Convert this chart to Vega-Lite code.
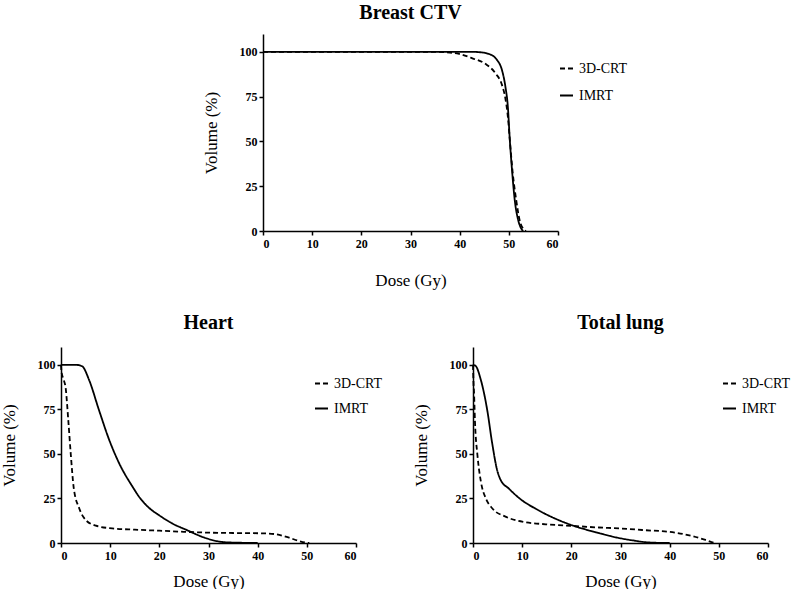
{
  "$schema": "https://vega.github.io/schema/vega-lite/v6.json",
  "background": "white",
  "padding": {"left": 0, "top": 3, "right": 0, "bottom": 0},
  "datasets": {
    "ctv": [
      {"dose": 0, "vol": 100, "plan": "3D-CRT"},
      {"dose": 35, "vol": 100, "plan": "3D-CRT"},
      {"dose": 37, "vol": 99.8, "plan": "3D-CRT"},
      {"dose": 39.9, "vol": 98.9, "plan": "3D-CRT"},
      {"dose": 42.6, "vol": 96.4, "plan": "3D-CRT"},
      {"dose": 45.3, "vol": 93.2, "plan": "3D-CRT"},
      {"dose": 47.3, "vol": 88, "plan": "3D-CRT"},
      {"dose": 48.6, "vol": 81.6, "plan": "3D-CRT"},
      {"dose": 49.3, "vol": 74, "plan": "3D-CRT"},
      {"dose": 49.8, "vol": 63.9, "plan": "3D-CRT"},
      {"dose": 50.2, "vol": 50.8, "plan": "3D-CRT"},
      {"dose": 50.8, "vol": 32.2, "plan": "3D-CRT"},
      {"dose": 51.5, "vol": 17.3, "plan": "3D-CRT"},
      {"dose": 52.2, "vol": 6, "plan": "3D-CRT"},
      {"dose": 53.0, "vol": 1, "plan": "3D-CRT"},
      {"dose": 53.5, "vol": 0, "plan": "3D-CRT"},
      {"dose": 0, "vol": 100, "plan": "IMRT"},
      {"dose": 30, "vol": 100, "plan": "IMRT"},
      {"dose": 43, "vol": 100, "plan": "IMRT"},
      {"dose": 44.2, "vol": 99.8, "plan": "IMRT"},
      {"dose": 45.9, "vol": 98.9, "plan": "IMRT"},
      {"dose": 47.6, "vol": 95.5, "plan": "IMRT"},
      {"dose": 48.6, "vol": 89.9, "plan": "IMRT"},
      {"dose": 49.3, "vol": 80.6, "plan": "IMRT"},
      {"dose": 49.8, "vol": 69.4, "plan": "IMRT"},
      {"dose": 50.2, "vol": 50.8, "plan": "IMRT"},
      {"dose": 50.7, "vol": 32.2, "plan": "IMRT"},
      {"dose": 51.2, "vol": 17.3, "plan": "IMRT"},
      {"dose": 51.9, "vol": 6.1, "plan": "IMRT"},
      {"dose": 52.5, "vol": 1.5, "plan": "IMRT"},
      {"dose": 52.9, "vol": 0, "plan": "IMRT"}
    ],
    "heart": [
      {"dose": 0, "vol": 100, "plan": "3D-CRT"},
      {"dose": 0.1, "vol": 96, "plan": "3D-CRT"},
      {"dose": 0.5, "vol": 92, "plan": "3D-CRT"},
      {"dose": 0.95, "vol": 86.9, "plan": "3D-CRT"},
      {"dose": 1.5, "vol": 68.2, "plan": "3D-CRT"},
      {"dose": 2.0, "vol": 49.4, "plan": "3D-CRT"},
      {"dose": 2.6, "vol": 30.7, "plan": "3D-CRT"},
      {"dose": 3.7, "vol": 19.5, "plan": "3D-CRT"},
      {"dose": 5.0, "vol": 13, "plan": "3D-CRT"},
      {"dose": 7.1, "vol": 9.7, "plan": "3D-CRT"},
      {"dose": 10.4, "vol": 8.2, "plan": "3D-CRT"},
      {"dose": 15, "vol": 7.5, "plan": "3D-CRT"},
      {"dose": 20, "vol": 6.9, "plan": "3D-CRT"},
      {"dose": 25, "vol": 6.3, "plan": "3D-CRT"},
      {"dose": 30, "vol": 5.8, "plan": "3D-CRT"},
      {"dose": 35, "vol": 5.6, "plan": "3D-CRT"},
      {"dose": 41.6, "vol": 5.4, "plan": "3D-CRT"},
      {"dose": 43.7, "vol": 4.9, "plan": "3D-CRT"},
      {"dose": 46.4, "vol": 3, "plan": "3D-CRT"},
      {"dose": 48.4, "vol": 1.1, "plan": "3D-CRT"},
      {"dose": 49.8, "vol": 0.2, "plan": "3D-CRT"},
      {"dose": 50.5, "vol": 0, "plan": "3D-CRT"},
      {"dose": 0, "vol": 100, "plan": "IMRT"},
      {"dose": 3, "vol": 100, "plan": "IMRT"},
      {"dose": 4.3, "vol": 99.2, "plan": "IMRT"},
      {"dose": 5.7, "vol": 91.6, "plan": "IMRT"},
      {"dose": 7.7, "vol": 74.8, "plan": "IMRT"},
      {"dose": 9.8, "vol": 57.9, "plan": "IMRT"},
      {"dose": 11.8, "vol": 44.9, "plan": "IMRT"},
      {"dose": 14.5, "vol": 31.8, "plan": "IMRT"},
      {"dose": 16, "vol": 25.5, "plan": "IMRT"},
      {"dose": 18, "vol": 19.5, "plan": "IMRT"},
      {"dose": 20, "vol": 15.5, "plan": "IMRT"},
      {"dose": 22.6, "vol": 11, "plan": "IMRT"},
      {"dose": 25.4, "vol": 7.5, "plan": "IMRT"},
      {"dose": 29.4, "vol": 2.8, "plan": "IMRT"},
      {"dose": 33.5, "vol": 0.4, "plan": "IMRT"},
      {"dose": 40, "vol": 0, "plan": "IMRT"}
    ],
    "lung": [
      {"dose": 0, "vol": 100, "plan": "3D-CRT"},
      {"dose": 0.1, "vol": 90, "plan": "3D-CRT"},
      {"dose": 0.2, "vol": 85, "plan": "3D-CRT"},
      {"dose": 0.4, "vol": 68.2, "plan": "3D-CRT"},
      {"dose": 0.9, "vol": 49.4, "plan": "3D-CRT"},
      {"dose": 1.6, "vol": 34.5, "plan": "3D-CRT"},
      {"dose": 2.6, "vol": 25.1, "plan": "3D-CRT"},
      {"dose": 3.9, "vol": 19.5, "plan": "3D-CRT"},
      {"dose": 6.6, "vol": 14.8, "plan": "3D-CRT"},
      {"dose": 10, "vol": 12, "plan": "3D-CRT"},
      {"dose": 14.8, "vol": 10.5, "plan": "3D-CRT"},
      {"dose": 20.2, "vol": 9.6, "plan": "3D-CRT"},
      {"dose": 25.6, "vol": 8.7, "plan": "3D-CRT"},
      {"dose": 29.7, "vol": 8.2, "plan": "3D-CRT"},
      {"dose": 34.4, "vol": 7.3, "plan": "3D-CRT"},
      {"dose": 41.2, "vol": 5.8, "plan": "3D-CRT"},
      {"dose": 44.6, "vol": 3.9, "plan": "3D-CRT"},
      {"dose": 47.3, "vol": 1.7, "plan": "3D-CRT"},
      {"dose": 49, "vol": 0.2, "plan": "3D-CRT"},
      {"dose": 49.5, "vol": 0, "plan": "3D-CRT"},
      {"dose": 0, "vol": 100, "plan": "IMRT"},
      {"dose": 0.5, "vol": 99.5, "plan": "IMRT"},
      {"dose": 1.6, "vol": 91.5, "plan": "IMRT"},
      {"dose": 2.9, "vol": 74.5, "plan": "IMRT"},
      {"dose": 3.9, "vol": 56, "plan": "IMRT"},
      {"dose": 4.9, "vol": 41, "plan": "IMRT"},
      {"dose": 5.6, "vol": 35.5, "plan": "IMRT"},
      {"dose": 7.3, "vol": 30.5, "plan": "IMRT"},
      {"dose": 10, "vol": 23.9, "plan": "IMRT"},
      {"dose": 12.7, "vol": 19.3, "plan": "IMRT"},
      {"dose": 16.8, "vol": 13.6, "plan": "IMRT"},
      {"dose": 20.2, "vol": 9.9, "plan": "IMRT"},
      {"dose": 25, "vol": 6, "plan": "IMRT"},
      {"dose": 29.7, "vol": 2.8, "plan": "IMRT"},
      {"dose": 32.4, "vol": 1.5, "plan": "IMRT"},
      {"dose": 35.8, "vol": 0.3, "plan": "IMRT"},
      {"dose": 40, "vol": 0, "plan": "IMRT"}
    ],
    "spacer": []
  },
  "spacing": 25,
  "vconcat": [
    {
      "spacing": 20,
      "resolve": {"scale": {"strokeDash": "independent"}, "legend": {"strokeDash": "independent"}},
      "hconcat": [
        {"data": {"name": "spacer"}, "mark": "point", "width": 121, "height": 10},
        {
          "data": {"name": "ctv"},
          "title": {"text": "Breast CTV", "offset": 11},
          "width": 295,
          "height": 197,
          "mark": {"type": "line", "interpolate": "monotone", "strokeWidth": 1.8, "color": "black"},
          "encoding": {
            "x": {"field": "dose", "type": "quantitative", "scale": {"domain": [0, 60], "nice": false}, "axis": {"title": "Dose (Gy)", "values": [0, 10, 20, 30, 40, 50, 60], "titlePadding": 23}},
            "y": {"field": "vol", "type": "quantitative", "scale": {"domain": [0, 110], "nice": false}, "axis": {"title": "Volume (%)", "values": [0, 25, 50, 75, 100]}},
            "strokeDash": {"field": "plan", "type": "nominal", "scale": {"domain": ["3D-CRT", "IMRT"], "range": [[5, 3], [1, 0]]}, "legend": {"legendX": 296, "legendY": 27, "rowPadding": 12}}
          }
        }
      ]
    },
    {
      "spacing": 29,
      "resolve": {"scale": {"strokeDash": "independent"}, "legend": {"strokeDash": "independent"}},
      "hconcat": [
        {
          "data": {"name": "heart"},
          "title": {"text": "Heart", "offset": 14},
          "width": 295,
          "height": 196,
          "mark": {"type": "line", "interpolate": "monotone", "strokeWidth": 1.8, "color": "black"},
          "encoding": {
            "x": {"field": "dose", "type": "quantitative", "scale": {"domain": [0, 60], "nice": false}, "axis": {"title": "Dose (Gy)", "values": [0, 10, 20, 30, 40, 50, 60], "titlePadding": 12}},
            "y": {"field": "vol", "type": "quantitative", "scale": {"domain": [0, 110], "nice": false}, "axis": {"title": "Volume (%)", "values": [0, 25, 50, 75, 100], "titlePadding": 19}},
            "strokeDash": {"field": "plan", "type": "nominal", "scale": {"domain": ["3D-CRT", "IMRT"], "range": [[5, 3], [1, 0]]}, "legend": {"legendX": 253, "legendY": 29, "rowPadding": 10}}
          }
        },
        {
          "data": {"name": "lung"},
          "title": {"text": "Total lung", "offset": 14},
          "width": 295,
          "height": 196,
          "mark": {"type": "line", "interpolate": "monotone", "strokeWidth": 1.8, "color": "black"},
          "encoding": {
            "x": {"field": "dose", "type": "quantitative", "scale": {"domain": [0, 60], "nice": false}, "axis": {"title": "Dose (Gy)", "values": [0, 10, 20, 30, 40, 50, 60], "titlePadding": 12}},
            "y": {"field": "vol", "type": "quantitative", "scale": {"domain": [0, 110], "nice": false}, "axis": {"title": "Volume (%)", "values": [0, 25, 50, 75, 100]}},
            "strokeDash": {"field": "plan", "type": "nominal", "scale": {"domain": ["3D-CRT", "IMRT"], "range": [[5, 3], [1, 0]]}, "legend": {"legendX": 249, "legendY": 29, "rowPadding": 10}}
          }
        }
      ]
    }
  ],
  "resolve": {"scale": {"strokeDash": "independent"}, "legend": {"strokeDash": "independent"}},
  "config": {
    "font": "Liberation Serif",
    "view": {"stroke": null},
    "axis": {
      "grid": false,
      "domainColor": "black",
      "domainWidth": 1.5,
      "tickColor": "black",
      "tickWidth": 1.5,
      "tickSize": 4,
      "labelFont": "Liberation Serif",
      "labelFontWeight": "bold",
      "labelFontSize": 12,
      "labelColor": "black",
      "labelPadding": 2,
      "titleFont": "Liberation Serif",
      "titleFontWeight": "normal",
      "titleFontSize": 17,
      "titleColor": "black",
      "titlePadding": 19
    },
    "axisX": {"labelPadding": 3},
    "title": {"font": "Liberation Serif", "fontSize": 20, "fontWeight": "bold", "color": "black"},
    "legend": {
      "orient": "none",
      "title": null,
      "labelFont": "Liberation Serif",
      "labelFontSize": 14,
      "labelColor": "black",
      "symbolType": "stroke",
      "symbolStrokeColor": "black",
      "symbolStrokeWidth": 2,
      "symbolSize": 169,
      "labelOffset": 5,
      "rowPadding": 13,
      "padding": 0
    }
  }
}
